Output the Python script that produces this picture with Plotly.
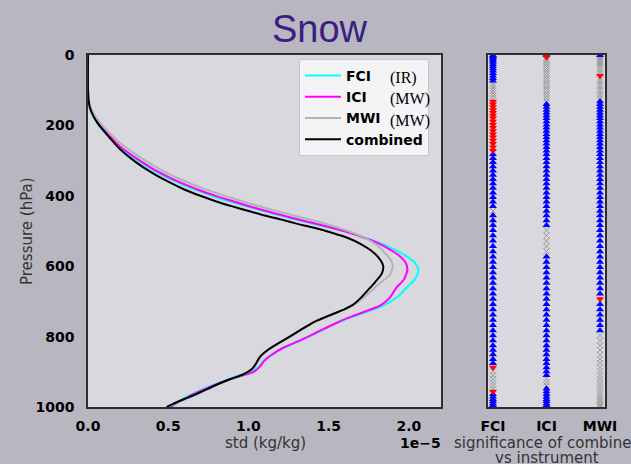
import plotly.graph_objects as go

W, H = 631, 464

# ---------------- profile data (std in units of 1e-5 kg/kg, pressure in hPa) -------------
comb_x = [0.0, 0.0, 0.003, 0.012, 0.035, 0.07, 0.135, 0.2, 0.3, 0.4, 0.5, 0.6, 0.7, 0.8, 0.9, 1.0,
          1.1, 1.2, 1.3, 1.41, 1.52, 1.62, 1.70, 1.76, 1.81, 1.84, 1.83, 1.79, 1.74, 1.70, 1.65,
          1.6, 1.53, 1.41, 1.325, 1.22, 1.12, 1.07, 1.045, 1.02, 0.97, 0.88, 0.78, 0.7, 0.62,
          0.57, 0.53, 0.49]
comb_p = [0, 100, 125, 150, 175, 200, 235, 268, 305, 335, 360, 382, 400, 416, 430, 443,
          456, 467, 479, 491, 505, 520, 537, 554, 575, 600, 622, 645, 670, 690, 710,
          722, 735, 758, 781, 810, 838, 858, 878, 893, 907, 922, 941, 958, 974,
          983, 991, 1000]

mwi_x = [0.0, 0.0, 0.003, 0.012, 0.035, 0.075, 0.135, 0.2, 0.3, 0.4, 0.5, 0.6, 0.7, 0.8, 0.9, 1.0,
         1.1, 1.2, 1.3, 1.41, 1.52, 1.62, 1.72, 1.80, 1.85, 1.89, 1.90, 1.88, 1.82, 1.77, 1.72,
         1.665, 1.605, 1.535, 1.415, 1.33, 1.225, 1.125, 1.075, 1.05, 1.025, 0.975, 0.885, 0.785,
         0.705, 0.625, 0.575, 0.535, 0.495]
mwi_p = [0, 95, 118, 142, 166, 192, 222, 250, 283, 312, 337, 358, 376, 392, 407, 421,
         434, 446, 458, 471, 485, 500, 518, 540, 562, 585, 600, 625, 648, 668, 688,
         708, 722, 735, 758, 781, 810, 838, 858, 878, 893, 907, 922, 941,
         958, 974, 983, 991, 1000]

ici_x = [0.0, 0.0, 0.003, 0.012, 0.035, 0.075, 0.135, 0.2, 0.3, 0.4, 0.5, 0.6, 0.7, 0.8, 0.9, 1.0,
         1.1, 1.2, 1.3, 1.41, 1.52, 1.62, 1.72, 1.8, 1.88, 1.94, 1.98, 1.99, 1.97, 1.92, 1.88,
         1.82, 1.72, 1.62, 1.53, 1.43, 1.325, 1.22, 1.15, 1.1, 1.07, 1.03, 0.95, 0.85, 0.75,
         0.65, 0.58, 0.51]
ici_p = [0, 98, 122, 147, 171, 200, 230, 260, 293, 322, 346, 367, 385, 401, 415, 429,
         442, 454, 466, 478, 491, 504, 519, 533, 552, 570, 590, 611, 637, 662, 690,
         712, 730, 747, 765, 787, 810, 831, 850, 868, 886, 901, 912, 927, 945,
         965, 982, 1000]

fci_x = [0.0, 0.0, 0.003, 0.012, 0.035, 0.075, 0.135, 0.2, 0.3, 0.4, 0.5, 0.6, 0.7, 0.8, 0.9, 1.0,
         1.1, 1.2, 1.3, 1.41, 1.52, 1.62, 1.72, 1.8, 1.9, 1.98, 2.04, 2.06, 2.04, 1.99, 1.93,
         1.84, 1.73, 1.62, 1.53, 1.43, 1.325, 1.22, 1.15, 1.1, 1.07, 1.03, 0.95, 0.85, 0.75,
         0.65, 0.58, 0.52]
fci_p = [0, 100, 125, 151, 176, 205, 234, 264, 297, 326, 350, 370, 388, 404, 418, 431,
         444, 456, 468, 480, 492, 504, 518, 531, 550, 570, 592, 612, 636, 659, 687,
         712, 731, 748, 766, 788, 811, 832, 850, 867, 883, 898, 909, 925, 943,
         963, 980, 1000]

x_tick_vals = [0.0, 0.5, 1.0, 1.5, 2.0]
x_tick_text = ["0.0", "0.5", "1.0", "1.5", "2.0"]
y_tick_vals = [0, 200, 400, 600, 800, 1000]
y_tick_text = ["0", "200", "400", "600", "800", "1000"]

# ---------------- significance panel ----------------
instruments = ["FCI", "ICI", "MWI"]
levels = [1, 3, 6, 10, 15, 20, 26, 32, 38, 45, 52, 59, 66, 73, 80, 87, 94, 101,
          108, 116, 124, 132, 140, 148, 156, 164, 172, 180, 189, 198, 207, 216, 225, 234,
          243, 252, 262, 272, 282, 293, 305, 317, 329, 341, 353, 365, 378, 391, 404, 417,
          430, 443, 456, 470, 484, 498, 513, 528, 543, 558, 573, 588, 603, 618, 633, 648,
          663, 678, 693, 708, 723, 738, 753, 768, 783, 797, 811, 825, 838, 851, 864, 876,
          888, 899, 910, 920, 930, 939, 948, 956, 964, 971, 978, 984, 990, 995, 999]
# (top hPa, bottom hPa, category)
fci_sig = [(0, 77, "up"), (77, 128, "ns"), (128, 278, "down"), (278, 440, "up"),
           (440, 450, "ns"), (450, 880, "up"), (880, 892, "down"), (892, 952, "ns"),
           (952, 960, "down"), (960, 1001, "up")]
ici_sig = [(0, 2, "up"), (2, 8, "down"), (8, 135, "ns"), (135, 485, "up"),
           (485, 565, "ns"), (565, 918, "up"), (918, 945, "ns"), (945, 1001, "up")]
mwi_sig = [(0, 2, "up"), (2, 55, "ns"), (55, 62, "down"), (62, 130, "ns"),
           (130, 690, "up"), (690, 700, "down"), (700, 785, "up"), (785, 1001, "ns")]
sig_tables = [fci_sig, ici_sig, mwi_sig]

# ---------------- styling ----------------
PAPER = "#b8b6c0"
PLOT = "#d9d8de"
FRAME = "#2e2e2e"
FONT = "DejaVu Sans"

fig = go.Figure()

line_specs = [
    ("<b>FCI</b>", fci_x, fci_p, "#00ffff"),
    ("<b>ICI</b>", ici_x, ici_p, "#ff00ff"),
    ("<b>MWI</b>", mwi_x, mwi_p, "#b3b3b3"),
    ("<b>combined</b>", comb_x, comb_p, "#000000"),
]
for name, xs, ps, col in line_specs:
    fig.add_trace(go.Scatter(
        x=[v * 1e-5 for v in xs], y=ps, mode="lines", name=name,
        line=dict(color=col, width=2, shape="spline", smoothing=0.6),
        xaxis="x", yaxis="y", showlegend=True))

cat_style = {
    "up": dict(symbol="triangle-up", size=7, color="#0000ff", line=dict(width=0)),
    "down": dict(symbol="triangle-down", size=7, color="#ff0000", line=dict(width=0)),
    "ns": dict(symbol="x-thin", size=6, color="#9a9a9a", line=dict(width=1, color="#9a9a9a")),
}
for i, segs in enumerate(sig_tables):
    groups = {"ns": [], "up": [], "down": []}
    for p in levels:
        for lo, hi, c in segs:
            if lo <= p < hi:
                groups[c].append(p)
                break
    for c in ["ns", "up", "down"]:
        if not groups[c]:
            continue
        fig.add_trace(go.Scatter(
            x=[i] * len(groups[c]), y=groups[c], mode="markers",
            marker=cat_style[c], xaxis="x2", yaxis="y2", showlegend=False,
            cliponaxis=True))

y0 = 1 - 407 / H
y1 = 1 - 55 / H
tickfont = dict(family=FONT, size=14, color="#000000", weight="bold")

fig.update_layout(
    width=W, height=H,
    margin=dict(l=0, r=0, t=0, b=0),
    paper_bgcolor=PAPER, plot_bgcolor=PLOT,
    xaxis=dict(domain=[88 / W, 441 / W], range=[0, 2.2e-5], tickvals=[v * 1e-5 for v in x_tick_vals],
               ticktext=x_tick_text, tickfont=tickfont, showgrid=False, zeroline=False,
               showline=True, mirror=True, linecolor=FRAME, linewidth=1.5,
               ticks="outside", ticklen=5, tickcolor="rgba(0,0,0,0)", automargin=False),
    yaxis=dict(domain=[y0, y1], range=[1000, 0], tickvals=y_tick_vals, ticktext=y_tick_text,
               tickfont=tickfont, showgrid=False, zeroline=False,
               showline=True, mirror=True, linecolor=FRAME, linewidth=1.5,
               ticks="outside", ticklen=9, tickcolor="rgba(0,0,0,0)", automargin=False),
    xaxis2=dict(domain=[488 / W, 605 / W], range=[-0.093, 2.093], tickvals=[0, 1, 2],
                ticktext=instruments, tickfont=tickfont, showgrid=False, zeroline=False,
                showline=True, mirror=True, linecolor=FRAME, linewidth=1.5,
                ticks="outside", ticklen=5, tickcolor="rgba(0,0,0,0)", anchor="y2",
                automargin=False),
    yaxis2=dict(domain=[y0, y1], range=[1000, 0], showticklabels=False, showgrid=False,
                zeroline=False, showline=True, mirror=True, linecolor=FRAME, linewidth=1.5,
                anchor="x2", automargin=False),
    legend=dict(x=299 / W, y=1 - 59 / H, xanchor="left", yanchor="top",
                bgcolor="rgba(246,246,248,0.92)", bordercolor="#c8c8c8", borderwidth=1,
                font=dict(family=FONT, size=14, color="#000000"), itemwidth=36,
                tracegroupgap=0),
    showlegend=True,
)

def ann(text, px, py, size=15, color="#333333", family=FONT, weight="normal", angle=0, xanchor="center"):
    fig.add_annotation(text=text, x=px / W, y=1 - py / H, xref="paper", yref="paper",
                       showarrow=False, xanchor=xanchor, yanchor="middle", textangle=angle,
                       font=dict(family=family, size=size, color=color, weight=weight))

ann("Snow", 320, 29, size=38, color="#3b1e80", family="Liberation Sans")
ann("Pressure (hPa)", 27, 231, size=15, angle=-90)
ann("std (kg/kg)", 265, 443, size=15)
ann("1e\u22125", 420, 443, size=14, color="#000000", weight="bold")
ann("significance of combined", 547, 443, size=15)
ann("vs instrument", 547, 458, size=15)
ann("(IR)", 388, 78, size=16, color="#000000", family="Liberation Serif", xanchor="left")
ann("(MW)", 388, 99, size=16, color="#000000", family="Liberation Serif", xanchor="left")
ann("(MW)", 388, 121, size=16, color="#000000", family="Liberation Serif", xanchor="left")

fig.write_html("out.html")
